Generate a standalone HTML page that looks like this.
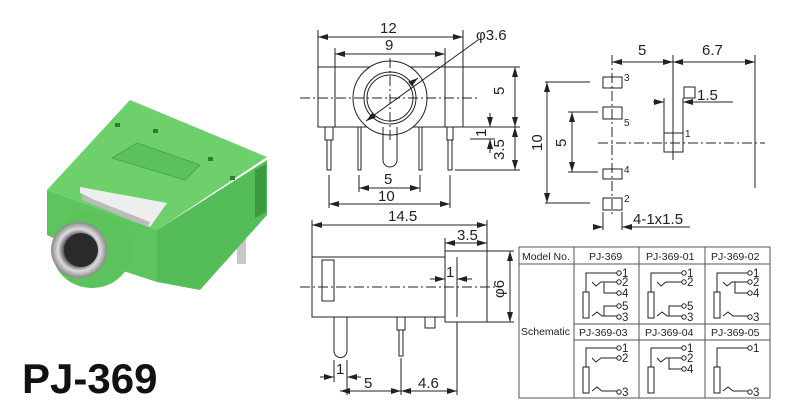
<!DOCTYPE html>
<html><head><meta charset="utf-8"><style>
html,body{margin:0;padding:0;background:#fff;}
svg{display:block;font-family:"Liberation Sans",sans-serif;}
</style></head><body>
<svg width="800" height="410" viewBox="0 0 800 410" xmlns="http://www.w3.org/2000/svg">
<defs>
<marker id="a" viewBox="0 0 10 6" refX="10" refY="3" markerWidth="10" markerHeight="6" orient="auto-start-reverse" markerUnits="userSpaceOnUse"><path d="M0,0 L10,3 L0,6z" fill="#222"/></marker>
<radialGradient id="m" cx="0.5" cy="0.5" r="0.5"><stop offset="0" stop-color="#333"/><stop offset="0.55" stop-color="#555"/><stop offset="0.75" stop-color="#ddd"/><stop offset="1" stop-color="#888"/></radialGradient>
</defs>

<!-- Photo -->
<g>
<rect x="237" y="238" width="9" height="26" fill="#c8c8c8"/>
<polygon points="47,190 130,100 267,157 157,230" fill="#6dd06b"/>
<polygon points="157,230 267,160 267,215 200,290 157,282" fill="#55bd57"/>
<polygon points="47,190 157,230 157,282 120,270 47,235" fill="#5ec45e"/>
<polygon points="255,170 266,164 266,212 255,218" fill="#3b9a40"/>
<polygon points="137,143 200,165 185,180 112,158" fill="#5cc05c" stroke="#4aa84c" stroke-width="1"/>
<polygon points="80,187 167,203 150,227 80,193" fill="#eeeeee"/>
<polygon points="82,195 150,222 148,227 82,200" fill="#bbb"/>
<rect x="115" y="123" width="5" height="4" fill="#2e7d32"/>
<rect x="153" y="129" width="5" height="4" fill="#2e7d32"/>
<rect x="208" y="157" width="5" height="4" fill="#2e7d32"/>
<rect x="230" y="176" width="5" height="4" fill="#2e7d32"/>
<ellipse cx="92" cy="250" rx="40" ry="38" fill="#5cc25c"/>
<circle cx="79" cy="250" r="28" fill="url(#m)"/>
<circle cx="81" cy="250" r="17" fill="#2a2a2a"/>
</g>
<text x="22" y="393" font-size="42" font-weight="bold" fill="#111">PJ-369</text>

<g stroke="#222" stroke-width="1" fill="none">
<rect x="318" y="67" width="145" height="60"/>
<line x1="335" y1="67" x2="335" y2="127"/><line x1="445" y1="67" x2="445" y2="127"/>
<circle cx="390" cy="98" r="37" fill="#fff"/>
<circle cx="390" cy="98" r="26"/><circle cx="390" cy="98" r="23"/>
<line x1="300" y1="98" x2="480" y2="98" stroke-dasharray="10,3,2,3"/>
<line x1="390" y1="58" x2="390" y2="140" stroke-dasharray="10,3,2,3"/>
<line x1="366" y1="121" x2="478" y2="40" marker-start="url(#a)"/>
<line x1="410" y1="84" x2="418" y2="78" marker-end="url(#a)"/>
<path d="M325,127 v13 h8 v-13 M327,140 v30 h4 v-30"/>
<path d="M358,127 v43 h3 v-43"/>
<path d="M383,127 v33 a7,7 0 0 0 14,0 v-33"/>
<path d="M419,127 v43 h3 v-43"/>
<path d="M447,127 v13 h6 v-13 M448,140 v30 h4 v-30"/>
<line x1="318" y1="30" x2="318" y2="67"/><line x1="463" y1="30" x2="463" y2="67"/>
<line x1="318" y1="37" x2="463" y2="37" marker-start="url(#a)" marker-end="url(#a)"/>
<line x1="335" y1="48" x2="335" y2="67"/><line x1="445" y1="48" x2="445" y2="67"/>
<line x1="335" y1="54" x2="445" y2="54" marker-start="url(#a)" marker-end="url(#a)"/>
<line x1="359" y1="175" x2="359" y2="192"/><line x1="420" y1="175" x2="420" y2="192"/>
<line x1="359" y1="188" x2="420" y2="188" marker-start="url(#a)" marker-end="url(#a)"/>
<line x1="329" y1="175" x2="329" y2="208"/><line x1="450" y1="175" x2="450" y2="208"/>
<line x1="329" y1="204" x2="450" y2="204" marker-start="url(#a)" marker-end="url(#a)"/>
<line x1="463" y1="67" x2="520" y2="67"/><line x1="463" y1="127" x2="520" y2="127"/>
<line x1="455" y1="170" x2="520" y2="170"/><line x1="470" y1="139" x2="495" y2="139"/>
<line x1="515" y1="67" x2="515" y2="127" marker-start="url(#a)" marker-end="url(#a)"/>
<line x1="515" y1="127" x2="515" y2="170" marker-start="url(#a)" marker-end="url(#a)"/>
<line x1="490" y1="113" x2="490" y2="127" marker-end="url(#a)"/>
<line x1="490" y1="153" x2="490" y2="139" marker-end="url(#a)"/>

<rect x="312" y="257" width="133" height="60"/>
<rect x="322" y="260" width="12" height="41"/>
<rect x="445" y="251" width="42" height="71"/>
<line x1="457" y1="257" x2="457" y2="317"/>
<line x1="300" y1="287" x2="500" y2="287" stroke-dasharray="10,3,2,3"/>
<path d="M334,317 v34 a6.5,6.5 0 0 0 13,0 v-34"/>
<path d="M397,317 v13 h8 v-13 M399,330 v26 h4 v-26"/>
<path d="M425,317 v11 h10 v-11"/>
<line x1="312" y1="220" x2="312" y2="257"/><line x1="487" y1="220" x2="487" y2="251"/>
<line x1="312" y1="225" x2="487" y2="225" marker-start="url(#a)" marker-end="url(#a)"/>
<line x1="445" y1="238" x2="445" y2="251"/>
<line x1="445" y1="243" x2="487" y2="243" marker-start="url(#a)" marker-end="url(#a)"/>
<line x1="430" y1="279" x2="445" y2="279" marker-end="url(#a)"/>
<line x1="472" y1="279" x2="457" y2="279" marker-end="url(#a)"/>
<line x1="487" y1="251" x2="514" y2="251"/><line x1="487" y1="322" x2="514" y2="322"/>
<line x1="510" y1="251" x2="510" y2="322" marker-start="url(#a)" marker-end="url(#a)"/>
<line x1="334" y1="360" x2="334" y2="382"/><line x1="347" y1="360" x2="347" y2="395"/>
<line x1="320" y1="377" x2="334" y2="377" marker-end="url(#a)"/><line x1="361" y1="377" x2="347" y2="377" marker-end="url(#a)"/>
<line x1="401" y1="358" x2="401" y2="395"/><line x1="457" y1="322" x2="457" y2="395"/>
<line x1="340" y1="391" x2="401" y2="391" marker-start="url(#a)" marker-end="url(#a)"/>
<line x1="401" y1="391" x2="457" y2="391" marker-start="url(#a)" marker-end="url(#a)"/>

<line x1="612" y1="55" x2="612" y2="215" stroke-dasharray="10,3,2,3"/>
<line x1="673" y1="55" x2="673" y2="160"/>
<line x1="755" y1="55" x2="755" y2="96"/>
<line x1="612" y1="62" x2="673" y2="62" marker-start="url(#a)" marker-end="url(#a)"/>
<line x1="673" y1="62" x2="755" y2="62" marker-start="url(#a)" marker-end="url(#a)"/>
<rect x="603" y="77" width="19" height="11"/><rect x="603" y="107" width="19" height="12"/>
<rect x="603" y="169" width="19" height="10"/><rect x="603" y="198" width="19" height="12"/>
<rect x="664" y="133" width="19" height="19"/>
<line x1="598" y1="143" x2="765" y2="143" stroke-dasharray="10,3,2,3"/>
<line x1="755" y1="96" x2="755" y2="188"/>
<line x1="664" y1="98" x2="664" y2="133"/><line x1="683" y1="98" x2="683" y2="133"/>
<line x1="653" y1="102" x2="664" y2="102" marker-end="url(#a)"/>
<line x1="733" y1="102" x2="683" y2="102" marker-end="url(#a)"/>
<line x1="545" y1="82" x2="590" y2="82"/><line x1="545" y1="203" x2="590" y2="203"/>
<line x1="547" y1="82" x2="547" y2="203" marker-start="url(#a)" marker-end="url(#a)"/>
<line x1="568" y1="112" x2="598" y2="112"/><line x1="568" y1="172" x2="598" y2="172"/>
<line x1="572" y1="112" x2="572" y2="172" marker-start="url(#a)" marker-end="url(#a)"/>
<line x1="603" y1="212" x2="603" y2="230"/><line x1="622" y1="212" x2="622" y2="230"/>
<line x1="593" y1="227" x2="603" y2="227" marker-end="url(#a)"/>
<line x1="690" y1="227" x2="622" y2="227" marker-end="url(#a)"/>
<rect x="684" y="87" width="11" height="11"/>
</g>

<g fill="#222" font-size="15">
<text x="380" y="33">12</text><text x="385" y="50">9</text>
<text x="476" y="40">φ3.6</text>
<text x="384" y="184">5</text><text x="378" y="201">10</text>
<text x="388" y="221">14.5</text>
<text x="457" y="240">3.5</text>
<text x="446" y="277">1</text>
<text x="336" y="374">1</text>
<text x="364" y="388">5</text><text x="418" y="388">4.6</text>
<text x="638" y="55">5</text><text x="702" y="55">6.7</text>
<text x="697" y="100">1.5</text>
<text x="633" y="224">4-1x1.5</text>
<text transform="translate(504,90) rotate(-90)" x="-5" y="0">5</text>
<text transform="translate(504,148) rotate(-90)" x="-12" y="0">3.5</text>
<text transform="translate(486,133) rotate(-90)" x="-4" y="0">1</text>
<text transform="translate(504,288) rotate(-90)" x="-10" y="0">φ6</text>
<text transform="translate(542,143) rotate(-90)" x="-8" y="0">10</text>
<text transform="translate(566,143) rotate(-90)" x="-4" y="0">5</text>
<g font-size="10"><text x="624" y="81">3</text><text x="624" y="126">5</text><text x="624" y="173">4</text><text x="624" y="202">2</text><text x="685" y="137">1</text></g>
</g>

<g stroke="#555" stroke-width="1" fill="none">
<rect x="519" y="247" width="251" height="151"/>
<line x1="519" y1="264" x2="770" y2="264"/>
<line x1="574" y1="247" x2="574" y2="398"/>
<line x1="639" y1="247" x2="639" y2="398"/>
<line x1="705" y1="247" x2="705" y2="398"/>
<line x1="574" y1="324" x2="770" y2="324"/>
<line x1="574" y1="340" x2="770" y2="340"/>
</g>
<g fill="#222" font-size="10.5">
<text x="522" y="260">Model No.</text>
<text x="589" y="260">PJ-369</text><text x="646" y="260">PJ-369-01</text><text x="711" y="260">PJ-369-02</text>
<text x="521" y="335">Schematic</text>
<text x="579" y="336">PJ-369-03</text><text x="645" y="336">PJ-369-04</text><text x="711" y="336">PJ-369-05</text>
</g>
<g stroke="#222" stroke-width="1" fill="none">
<g transform="translate(580,260)">
<path d="M3,58 v-26 h6 v26 z M6,32 v-19 h31"/><circle cx="39" cy="13" r="2.2"/>
<path d="M12,22 l4,4 l5,-4 h16"/><circle cx="39" cy="22" r="2.2"/>
<path d="M24,22 v11 h13"/><circle cx="39" cy="33" r="2.2"/>
<path d="M12,56 l5,-4 l5,4 h15"/><circle cx="39" cy="57" r="2.2"/>
<path d="M24,56 v-10 h13"/><circle cx="39" cy="46" r="2.2"/>
</g>
<g transform="translate(645,260)">
<path d="M3,58 v-26 h6 v26 z M6,32 v-19 h31"/><circle cx="39" cy="13" r="2.2"/>
<path d="M12,22 l4,4 l5,-4 h16"/><circle cx="39" cy="22" r="2.2"/>
<path d="M12,56 l5,-4 l5,4 h15"/><circle cx="39" cy="57" r="2.2"/>
<path d="M24,56 v-10 h13"/><circle cx="39" cy="46" r="2.2"/>
</g>
<g transform="translate(711,260)">
<path d="M3,58 v-26 h6 v26 z M6,32 v-19 h31"/><circle cx="39" cy="13" r="2.2"/>
<path d="M12,22 l4,4 l5,-4 h16"/><circle cx="39" cy="22" r="2.2"/>
<path d="M24,22 v11 h13"/><circle cx="39" cy="33" r="2.2"/>
<path d="M12,56 l5,-4 l5,4 h15"/><circle cx="39" cy="57" r="2.2"/>
</g>
<g transform="translate(580,335)">
<path d="M3,58 v-26 h6 v26 z M6,32 v-19 h31"/><circle cx="39" cy="13" r="2.2"/>
<path d="M12,23 l4,4 l5,-4 h16"/><circle cx="39" cy="23" r="2.2"/>
<path d="M12,56 l5,-4 l5,4 h15"/><circle cx="39" cy="57" r="2.2"/>
</g>
<g transform="translate(645,335)">
<path d="M3,58 v-26 h6 v26 z M6,32 v-19 h31"/><circle cx="39" cy="13" r="2.2"/>
<path d="M12,23 l4,4 l5,-4 h16"/><circle cx="39" cy="23" r="2.2"/>
<path d="M24,23 v11 h13"/><circle cx="39" cy="34" r="2.2"/>
</g>
<g transform="translate(711,335)">
<path d="M3,58 v-26 h6 v26 z M6,32 v-19 h31"/><circle cx="39" cy="13" r="2.2"/>
<path d="M12,56 l5,-4 l5,4 h15"/><circle cx="39" cy="57" r="2.2"/>
</g>
</g>
<g fill="#222" font-size="11.5">
<text x="622" y="277">1</text><text x="622" y="286">2</text><text x="622" y="297">4</text><text x="622" y="310">5</text><text x="622" y="321">3</text>
<text x="687" y="277">1</text><text x="687" y="286">2</text><text x="687" y="310">5</text><text x="687" y="321">3</text>
<text x="753" y="277">1</text><text x="753" y="286">2</text><text x="753" y="297">4</text><text x="753" y="321">3</text>
<text x="622" y="352">1</text><text x="622" y="362">2</text><text x="622" y="396">3</text>
<text x="687" y="352">1</text><text x="687" y="362">2</text><text x="687" y="373">4</text>
<text x="753" y="352">1</text><text x="753" y="396">3</text>
</g>
</svg>
</body></html>
